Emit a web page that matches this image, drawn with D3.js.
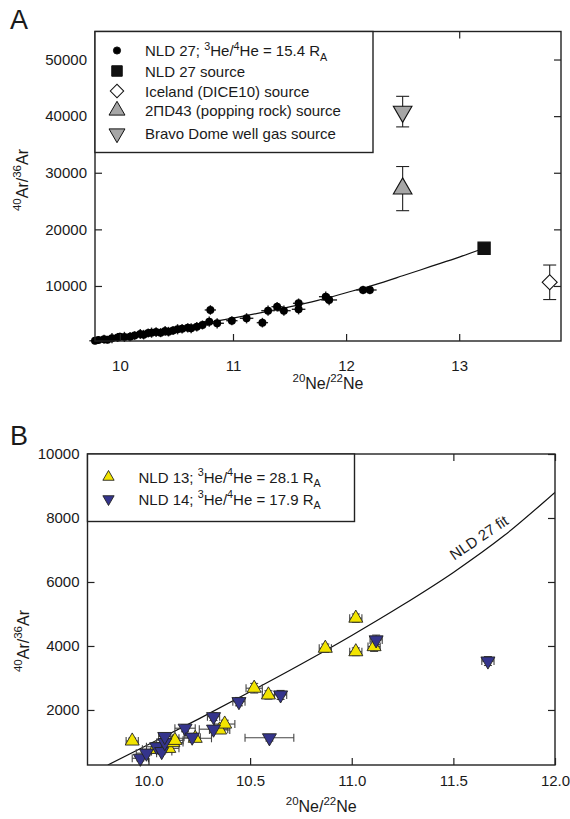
<!DOCTYPE html>
<html>
<head>
<meta charset="utf-8">
<script src="https://cdn.jsdelivr.net/npm/d3@7"></script>
<style>
body { margin: 0; background: #fff; }
text { font-family: "Liberation Sans", Arial, sans-serif; fill: #1a1a1a; white-space: pre; }
</style>
</head>
<body>
<svg id="chart" width="570" height="819"></svg>
<script>
// ---- panel A : NLD 27 ----
var nld27Ne = [9.78, 9.81, 9.86, 9.89, 9.93, 9.98, 10.00, 10.04, 10.09, 10.13,
    10.18, 10.21, 10.25, 10.28, 10.32, 10.36, 10.40, 10.43, 10.47, 10.51,
    10.55, 10.60, 10.63, 10.68, 10.73, 10.79, 10.80, 10.86, 10.99, 11.12,
    11.26, 11.31, 11.39, 11.45, 11.58, 11.58, 11.82, 11.85, 12.15, 12.21];
var nld27Ar = [320, 450, 600, 520, 780, 900, 1040, 1000, 1050, 1250,
    1520, 1400, 1700, 1750, 1850, 1750, 2050, 1930, 2150, 2350,
    2450, 2600, 2530, 2800, 3110, 3690, 5760, 3410, 3870, 4290,
    3520, 5640, 6340, 5640, 6940, 5880, 8110, 7530, 9290, 9290];
var nld27NeErr = [0.05, 0.04, 0.06, 0.05, 0.05, 0.06, 0.05, 0.04, 0.06, 0.05,
    0.05, 0.06, 0.05, 0.04, 0.05, 0.06, 0.05, 0.05, 0.04, 0.06,
    0.05, 0.05, 0.06, 0.05, 0.05, 0.06, 0.05, 0.06, 0.05, 0.06,
    0.05, 0.06, 0.05, 0.06, 0.05, 0.06, 0.06, 0.07, 0.06, 0.06];
var nld27ArErr = [600, 700, 800, 650, 900, 800, 700, 900, 800, 750,
    900, 850, 800, 900, 850, 800, 900, 850, 800, 900,
    850, 800, 900, 850, 800, 900, 850, 900, 800, 900,
    850, 900, 850, 900, 850, 900, 900, 950, 750, 750];

// end-member sources: NLD 27, Iceland, 2ΠD43, Bravo Dome
var sourceNe = [13.22, 13.80, 12.50, 12.50];
var sourceAr = [16660, 10650, 27200, 40800];
var sourceArErr = [0, 3050, 3900, 2700];

// NLD 27 mixing fit
var fitNe = [9.80, 10.0, 10.25, 10.5, 10.75, 11.0, 11.25, 11.5, 11.75, 12.0, 12.25, 12.5, 12.75, 13.0, 13.22];
var fitAr = [280, 920, 1730, 2570, 3430, 4330, 5280, 6300, 7450, 8800, 10200, 11800, 13450, 15100, 16660];

var ticksAx = [10, 11, 12, 13];
var ticksAy = [10000, 20000, 30000, 40000, 50000];

// ---- panel B : NLD 13 and NLD 14 ----
var nld13Ne = [9.92, 10.03, 10.10, 10.12, 10.13, 10.23, 10.35, 10.375, 10.52, 10.59, 10.87, 11.02, 11.02, 11.11];
var nld13Ar = [1030, 770, 800, 980, 1050, 1115, 1375, 1560, 2680, 2470, 3930, 4870, 3820, 3980];
var nld13NeErr = [0.03, 0.06, 0.05, 0.05, 0.04, 0.08, 0.05, 0.05, 0.04, 0.03, 0.03, 0.03, 0.03, 0.03];
var nld13ArErr = [90, 80, 80, 90, 90, 100, 110, 120, 150, 130, 130, 130, 120, 150];

var nld14Ne = [9.96, 9.99, 10.04, 10.065, 10.08, 10.08, 10.18, 10.215, 10.32, 10.32, 10.445, 10.595, 10.65, 11.12, 11.67];
var nld14Ar = [490, 650, 850, 700, 980, 1170, 1430, 1150, 1790, 1400, 2260, 1130, 2470, 4190, 3530];
var nld14NeErr = [0.04, 0.05, 0.05, 0.05, 0.04, 0.03, 0.05, 0.04, 0.03, 0.07, 0.03, 0.12, 0.03, 0.03, 0.03];
var nld14ArErr = [80, 80, 90, 80, 90, 100, 110, 100, 120, 110, 130, 100, 140, 150, 140];

var ticksBx = [10.0, 10.5, 11.0, 11.5, 12.0];
var ticksBy = [2000, 4000, 6000, 8000, 10000];

var legendA = [
    [["NLD 27; "], ["3", "sup"], ["He/"], ["4", "sup"], ["He = 15.4 R"], ["A", "sub"]],
    [["NLD 27 source"]],
    [["Iceland (DICE10) source"]],
    [["2\u03A0D43 (popping rock) source"]],
    [["Bravo Dome well gas source"]]
];
var legendB = [
    [["NLD 13; "], ["3", "sup"], ["He/"], ["4", "sup"], ["He = 28.1 R"], ["A", "sub"]],
    [["NLD 14; "], ["3", "sup"], ["He/"], ["4", "sup"], ["He = 17.9 R"], ["A", "sub"]]
];
var xTitle = [["20", "sup"], ["Ne/"], ["22", "sup"], ["Ne"]];
var yTitle = [["40", "sup"], ["Ar/"], ["36", "sup"], ["Ar"]];

var svg = d3.select("#chart");
var triUp = d3.symbol().type(d3.symbolTriangle);
var sq = d3.symbol().type(d3.symbolSquare);

// writes text with super/subscripts into a <text>
function rich(sel, parts, fs) {
    var cur = 0;
    parts.forEach(function (p) {
        var shift = p[1] === "sup" ? -0.42 * fs : (p[1] === "sub" ? 0.32 * fs : 0);
        sel.append("tspan")
            .attr("dy", shift - cur)
            .style("font-size", (p[1] ? fs * 0.72 : fs) + "px")
            .text(p[0]);
        cur = shift;
    });
    return sel;
}

function frame(g, x, y, w, h, xt, yt, xfmt, xpad) {
    var ax = g.append("g").attr("transform", "translate(0," + h + ")")
        .call(d3.axisBottom(x).tickValues(xt).tickSize(-7).tickPadding(xpad).tickFormat(xfmt));
    var at = g.append("g").call(d3.axisTop(x).tickValues(xt).tickSize(-7).tickFormat(""));
    var al = g.append("g")
        .call(d3.axisLeft(y).tickValues(yt).tickSize(-7).tickPadding(8).tickFormat(d3.format("d")));
    var ar = g.append("g").attr("transform", "translate(" + w + ",0)")
        .call(d3.axisRight(y).tickValues(yt).tickSize(-7).tickFormat(""));
    [ax, at, al, ar].forEach(function (a) {
        a.select(".domain").remove();
        a.selectAll("line").attr("stroke", "#222").attr("stroke-width", 1.2);
        a.selectAll("text").style("font-size", "15px").attr("fill", "#1a1a1a");
    });
    g.append("rect").attr("width", w).attr("height", h)
        .attr("fill", "none").attr("stroke", "#222").attr("stroke-width", 1.4);
}

function errBars(g, x, y, ne, ar, neErr, arErr, color, cap, sw) {
    sw = sw || 1.1;
    ne.forEach(function (v, i) {
        var cx = x(v), cy = y(ar[i]);
        if (neErr && neErr[i] > 0) {
            var x0 = x(v - neErr[i]), x1 = x(v + neErr[i]);
            g.append("line").attr("x1", x0).attr("x2", x1).attr("y1", cy).attr("y2", cy)
                .attr("stroke", color).attr("stroke-width", sw);
            if (cap) {
                [x0, x1].forEach(function (xx) {
                    g.append("line").attr("x1", xx).attr("x2", xx).attr("y1", cy - cap).attr("y2", cy + cap)
                        .attr("stroke", color).attr("stroke-width", sw);
                });
            }
        }
        if (arErr && arErr[i] > 0) {
            var y0 = y(ar[i] - arErr[i]), y1 = y(ar[i] + arErr[i]);
            g.append("line").attr("x1", cx).attr("x2", cx).attr("y1", y0).attr("y2", y1)
                .attr("stroke", color).attr("stroke-width", sw);
            if (cap) {
                [y0, y1].forEach(function (yy) {
                    g.append("line").attr("x1", cx - cap).attr("x2", cx + cap).attr("y1", yy).attr("y2", yy)
                        .attr("stroke", color).attr("stroke-width", sw);
                });
            }
        }
    });
}

// ================= Panel A =================
var A = { left: 95, top: 31.5, w: 466, h: 309.5 };
var gA = svg.append("g").attr("transform", "translate(" + A.left + "," + A.top + ")");
var xA = d3.scaleLinear().domain([9.78, 13.9]).range([0, A.w]);
var yA = d3.scaleLinear().domain([280, 54950]).range([A.h, 0]);

gA.append("clipPath").attr("id", "clipA").append("rect").attr("width", A.w).attr("height", A.h);

var fitLine = function (x, y) {
    return d3.line().x(function (d) { return x(d[0]); }).y(function (d) { return y(d[1]); })
        .curve(d3.curveMonotoneX);
};
var fitPts = fitNe.map(function (v, i) { return [v, fitAr[i]]; });

gA.append("path").datum(fitPts).attr("d", fitLine(xA, yA))
    .attr("fill", "none").attr("stroke", "#111").attr("stroke-width", 1.2)
    .attr("clip-path", "url(#clipA)");

errBars(gA, xA, yA, nld27Ne, nld27Ar, nld27NeErr, nld27ArErr, "#222", 0, 1.4);
gA.selectAll("circle.nld27").data(nld27Ne).enter().append("circle")
    .attr("cx", function (d) { return xA(d); })
    .attr("cy", function (d, i) { return yA(nld27Ar[i]); })
    .attr("r", 4).attr("fill", "#000");

// sources
errBars(gA, xA, yA, sourceNe, sourceAr, null, sourceArErr, "#222", 6.5);
var srcGlyph = [
    { sym: sq.size(150)(), rot: 0, fill: "#111" },
    { sym: sq.size(112)(), rot: 45, fill: "#fff" },
    { sym: triUp.size(150)(), rot: 0, fill: "#a6a6a6" },
    { sym: triUp.size(150)(), rot: 180, fill: "#a6a6a6" }
];
gA.selectAll("path.src").data(sourceNe).enter().append("path")
    .attr("d", function (d, i) { return srcGlyph[i].sym; })
    .attr("transform", function (d, i) {
        return "translate(" + xA(d) + "," + yA(sourceAr[i]) + ") rotate(" + srcGlyph[i].rot + ")";
    })
    .attr("fill", function (d, i) { return srcGlyph[i].fill; })
    .attr("stroke", "#111").attr("stroke-width", 1.1);

frame(gA, xA, yA, A.w, A.h, ticksAx, ticksAy, d3.format("d"), 19);

// legend A
var legA = gA.append("g");
legA.append("rect").attr("x", 0).attr("y", 0).attr("width", 278).attr("height", 121)
    .attr("fill", "#fff").attr("stroke", "#222").attr("stroke-width", 1.4);
var legAy = [19, 39.5, 59.5, 79, 102];
var legAsym = [
    { sym: d3.symbol().type(d3.symbolCircle).size(40)(), rot: 0, fill: "#000" },
    { sym: sq.size(110)(), rot: 0, fill: "#111" },
    { sym: sq.size(90)(), rot: 45, fill: "#fff" },
    { sym: triUp.size(110)(), rot: 0, fill: "#a6a6a6" },
    { sym: triUp.size(110)(), rot: 180, fill: "#a6a6a6" }
];
legendA.forEach(function (parts, i) {
    legA.append("path").attr("d", legAsym[i].sym)
        .attr("transform", "translate(22," + legAy[i] + ") rotate(" + legAsym[i].rot + ")")
        .attr("fill", legAsym[i].fill).attr("stroke", "#111").attr("stroke-width", 1);
    rich(legA.append("text").attr("x", 50).attr("y", legAy[i] + 5.5), parts, 15);
});

// titles A
rich(svg.append("text").attr("x", A.left + A.w / 2).attr("y", 389).attr("text-anchor", "middle"), xTitle, 16);
rich(svg.append("text").attr("transform", "translate(28,180) rotate(-90)").attr("text-anchor", "middle"), yTitle, 16);
svg.append("text").attr("x", 10).attr("y", 29).style("font-size", "27px").text("A");

// ================= Panel B =================
var B = { left: 87.5, top: 454, w: 467.5, h: 311 };
var gB = svg.append("g").attr("transform", "translate(" + B.left + "," + B.top + ")");
var xB = d3.scaleLinear().domain([9.7, 12.0]).range([0, B.w]);
var yB = d3.scaleLinear().domain([280, 10000]).range([B.h, 0]);

gB.append("clipPath").attr("id", "clipB").append("rect").attr("width", B.w).attr("height", B.h);
gB.append("path").datum(fitPts).attr("d", fitLine(xB, yB))
    .attr("fill", "none").attr("stroke", "#111").attr("stroke-width", 1.2)
    .attr("clip-path", "url(#clipB)");

// fit label
var labNe = 11.66, labAr = 7000;
gB.append("text")
    .attr("transform", "translate(" + (xB(labNe) - 4) + "," + (yB(labAr) - 8) + ") rotate(-34)")
    .attr("text-anchor", "middle").style("font-size", "15px").text("NLD 27 fit");

var yellow = "#f2e400", navy = "#34348c";
errBars(gB, xB, yB, nld13Ne, nld13Ar, nld13NeErr, nld13ArErr, "#444", 4);
errBars(gB, xB, yB, nld14Ne, nld14Ar, nld14NeErr, nld14ArErr, "#444", 4);

gB.selectAll("path.n13").data(nld13Ne).enter().append("path")
    .attr("d", triUp.size(85)())
    .attr("transform", function (d, i) { return "translate(" + xB(d) + "," + yB(nld13Ar[i]) + ")"; })
    .attr("fill", yellow).attr("stroke", "#222").attr("stroke-width", 0.9);
gB.selectAll("path.n14").data(nld14Ne).enter().append("path")
    .attr("d", triUp.size(85)())
    .attr("transform", function (d, i) { return "translate(" + xB(d) + "," + yB(nld14Ar[i]) + ") rotate(180)"; })
    .attr("fill", navy).attr("stroke", "#222").attr("stroke-width", 0.9);

frame(gB, xB, yB, B.w, B.h, ticksBx, ticksBy, d3.format(".1f"), 10);

// legend B
var legB = gB.append("g");
legB.append("rect").attr("x", 0).attr("y", 0).attr("width", 267).attr("height", 67.5)
    .attr("fill", "#fff").attr("stroke", "#222").attr("stroke-width", 1.4);
var legBy = [23, 45];
legendB.forEach(function (parts, i) {
    legB.append("path").attr("d", triUp.size(55)())
        .attr("transform", "translate(21," + legBy[i] + ") rotate(" + (i ? 180 : 0) + ")")
        .attr("fill", i ? navy : yellow).attr("stroke", "#222").attr("stroke-width", 0.9);
    rich(legB.append("text").attr("x", 51).attr("y", legBy[i] + 5.5), parts, 15);
});

// titles B
rich(svg.append("text").attr("x", B.left + B.w / 2).attr("y", 812).attr("text-anchor", "middle"), xTitle, 16);
rich(svg.append("text").attr("transform", "translate(29,641) rotate(-90)").attr("text-anchor", "middle"), yTitle, 16);
svg.append("text").attr("x", 10).attr("y", 445).style("font-size", "27px").text("B");
</script>
</body>
</html>
